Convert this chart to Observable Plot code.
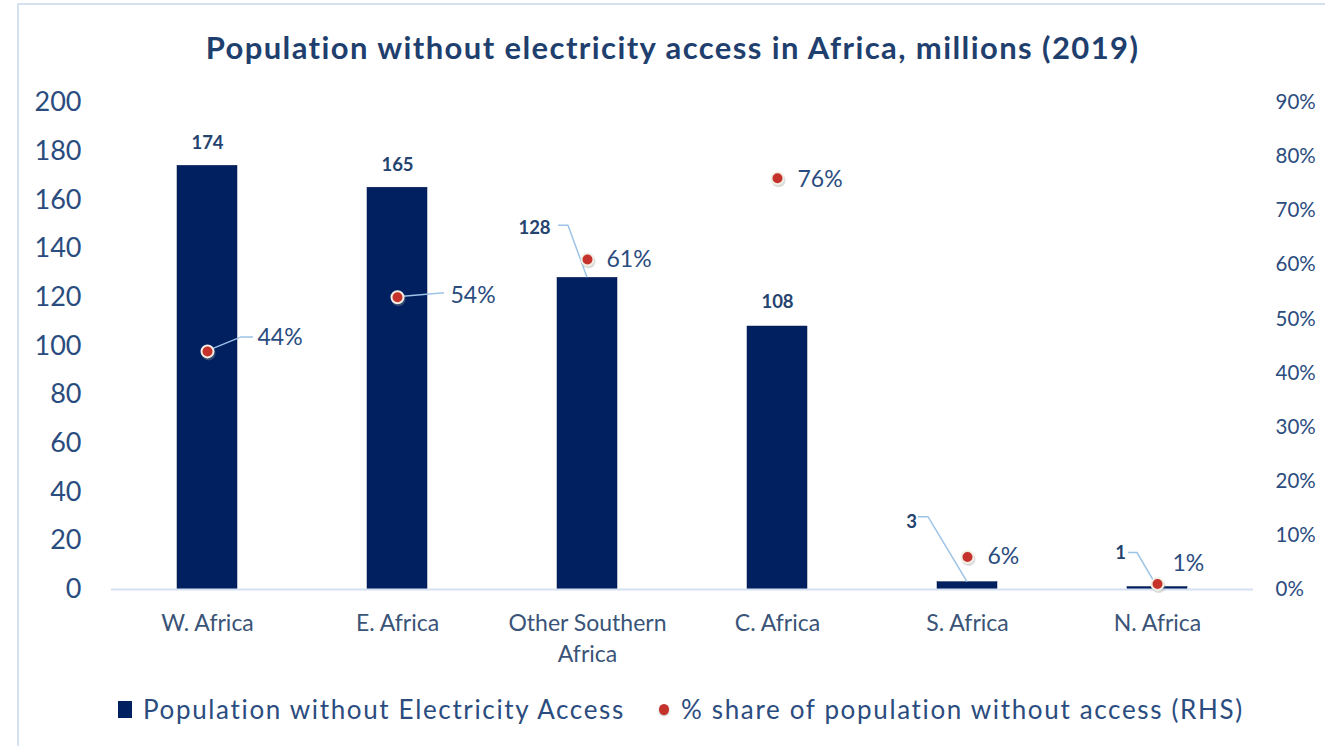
<!DOCTYPE html>
<html>
<head>
<meta charset="utf-8">
<script src="https://cdn.jsdelivr.net/npm/d3@7"></script>
<script src="https://cdn.jsdelivr.net/npm/@observablehq/plot@0.6"></script>
<style>
  html, body { margin: 0; padding: 0; background: #fff; }
  body { width: 1325px; height: 746px; position: relative; overflow: hidden; font-family: Lato, "Open Sans", sans-serif; }
  #frame { position: absolute; left: 17px; top: 3px; width: 1400px; height: 800px; border-left: 2px solid #D5E1F1; border-top: 2px solid #D5E1F1; }
  #title { position: absolute; left: 0; width: 1345px; top: 27px; text-align: center; font-weight: 700; font-size: 31px; letter-spacing: 1.4px; color: #1F3F6E; line-height: 40px; }
  #chart { position: absolute; left: 0; top: 85px; }
  #legend { position: absolute; left: 0; top: 689px; width: 1325px; font-size: 26px; letter-spacing: 1.65px; color: #2B4C7E; line-height: 40px; }
  .sq { position: absolute; left: 118px; top: 12px; width: 14px; height: 17px; background: #002060; }
  .t1 { position: absolute; left: 143px; top: 0; white-space: nowrap; }
  .dt { position: absolute; left: 659px; top: 15px; width: 10px; height: 11px; border-radius: 50%; background: #C4322B; box-shadow: 0 1px 2px #bbb; }
  .t2 { position: absolute; left: 681px; top: 0; white-space: nowrap; }
</style>
</head>
<body>
<div id="frame"></div>
<div id="title">Population without electricity access in Africa, millions (2019)</div>
<div id="chart"></div>
<div id="legend">
  <div class="sq"></div><span class="t1">Population without Electricity Access</span>
  <div class="dt"></div><span class="t2">% share of population without access (RHS)</span>
</div>
<script>
// ---- data ----
const categories = ["W. Africa", "E. Africa", "Other Southern Africa", "C. Africa", "S. Africa", "N. Africa"];
const population = [174, 165, 128, 108, 3, 1];          // millions
const share = [44, 54, 61, 76, 6, 1];                    // % (RHS)
const leftTicks = [0, 20, 40, 60, 80, 100, 120, 140, 160, 180, 200];
const rightTicks = [0, 10, 20, 30, 40, 50, 60, 70, 80, 90];
const xTickLabels = {"Other Southern Africa": "Other Southern\nAfrica"};

// ---- styling / annotation offsets (pixels) ----
const yMax = 200, pMax = 90;
const toY = p => p * yMax / pMax; // map RHS percent onto left scale
const valueOffset = { // label offset from bar-top centre
  "W. Africa": [0, -23], "E. Africa": [0, -23], "Other Southern Africa": [-53, -50],
  "C. Africa": [0, -24], "S. Africa": [-56, -60], "N. Africa": [-37, -34]
};
const pctOffset = { // label left edge offset from dot
  "W. Africa": [50, -14], "E. Africa": [53, -2], "Other Southern Africa": [19, 0],
  "C. Africa": [20, 1], "S. Africa": [20, 0], "N. Africa": [15, -20]
};
// leader lines: list of [anchor, points relative to anchor]
const leaders = [
  {cat: "W. Africa", kind: "pct", pts: [[0, 0], [34, -14], [46, -14]]},
  {cat: "E. Africa", kind: "pct", pts: [[0, 0], [47, -4]]},
  {cat: "Other Southern Africa", kind: "bar", pts: [[0, 0], [-19, -52], [-29, -52]]},
  {cat: "S. Africa", kind: "bar", pts: [[0, 0], [-39, -65], [-49, -65]]},
  {cat: "N. Africa", kind: "bar", pts: [[0, 0], [-20, -34], [-29, -34]]}
];

const rows = categories.map((c, i) => ({cat: c, pop: population[i], share: share[i]}));

function leaderMark(index, scales) {
  const x = scales.x, y = scales.y;
  const bw = x.bandwidth ? x.bandwidth() : 0;
  const g = d3.create("svg:g").attr("fill", "none").attr("stroke", "#9DC3E6").attr("stroke-width", 1.5);
  for (const L of leaders) {
    const r = rows.find(d => d.cat === L.cat);
    const ax = x(L.cat) + bw / 2;
    const ay = L.kind === "bar" ? y(r.pop) : y(toY(r.share));
    g.append("path").attr("d", "M" + L.pts.map(([dx, dy]) => `${ax + dx},${ay + dy}`).join("L"));
  }
  return g.node();
}

const textColor = "#2B4C7E";
const marks = [
  Plot.barY(rows, {x: "cat", y: "pop", fill: "#002060", stroke: "#00174a", strokeWidth: 0.5}),
  Plot.ruleY([0], {stroke: "#D5E1F1", strokeWidth: 2}),
  Plot.axisY(leftTicks, {anchor: "left", tickSize: 0, tickPadding: 30, fontSize: 27, fill: textColor, label: null}),
  Plot.axisY(rightTicks.map(toY), {anchor: "right", tickSize: 0, tickPadding: 22, fontSize: 20.5, fill: textColor, textAnchor: "start",
    tickFormat: v => Math.round(v * pMax / yMax) + "%", label: null}),
  Plot.axisX({tickSize: 0, tickPadding: 19, fontSize: 23, fill: "#3A5478", lineHeight: 1.35, label: null,
    tickFormat: d => xTickLabels[d] || d}),
  leaderMark,
  // dot shadows and dots
  Plot.dot(rows, {x: "cat", y: d => toY(d.share), r: 7, fill: "#999", fillOpacity: 0.35, dx: 1, dy: 2}),
  Plot.dot(rows, {x: "cat", y: d => toY(d.share), r: 6, fill: "#C4322B", stroke: "#F2EEE4", strokeWidth: 2})
];
for (const r of rows) {
  const [vx, vy] = valueOffset[r.cat];
  marks.push(Plot.text([r], {x: "cat", y: "pop", text: d => String(d.pop), dx: vx, dy: vy,
    fontSize: 18.5, fontWeight: 700, fill: "#24436F"}));
  const [px, py] = pctOffset[r.cat];
  marks.push(Plot.text([r], {x: "cat", y: d => toY(d.share), text: d => d.share + "%", dx: px, dy: py,
    textAnchor: "start", fontSize: 23, fill: textColor}));
}

const chart = Plot.plot({
  width: 1325,
  height: 590,
  marginTop: 17,
  marginBottom: 86,
  marginLeft: 111,
  marginRight: 72,
  style: {fontFamily: "Lato, 'Open Sans', sans-serif", background: "transparent", overflow: "visible"},
  x: {domain: categories, paddingInner: 0.684, paddingOuter: 0.342, axis: null},
  y: {domain: [0, yMax], axis: null},
  marks
});
document.getElementById("chart").appendChild(chart);
</script>
</body>
</html>
